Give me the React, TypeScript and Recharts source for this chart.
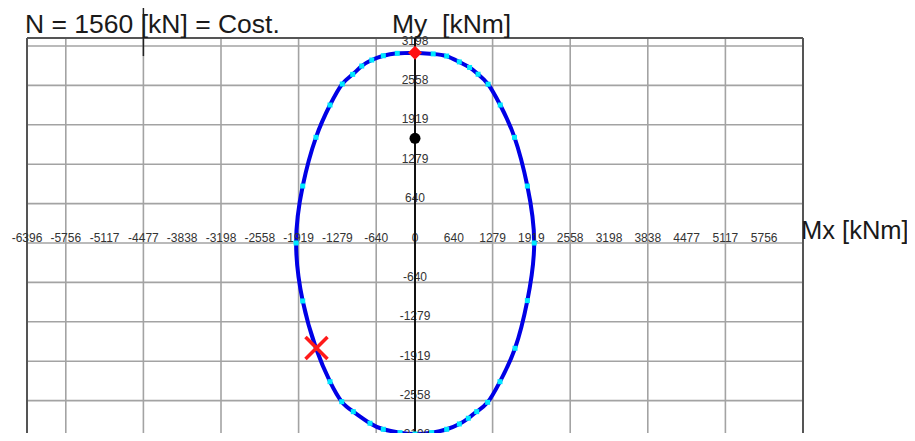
import React from "react";
import {
  ComposedChart,
  Scatter,
  Line,
  XAxis,
  YAxis,
  CartesianGrid,
  ReferenceLine,
} from "recharts";

// Interaction domain points (Mx, My), clockwise from the top
const ellipseMx = [0, 300, 522, 730, 900, 1040, 1205, 1405, 1640, 1852, 1965, 1852, 1649, 1401, 1198, 1017, 879, 731, 522, 275, 0, -247, -522, -742, -1017, -1208, -1401, -1632, -1851, -1960, -1851, -1632, -1401, -1199, -1027, -878, -713, -522, -292, 0];
const ellipseMy = [3090, 3070, 3035, 2940, 2850, 2740, 2578, 2240, 1715, 925, 0, -935, -1709, -2251, -2586, -2738, -2845, -2938, -3024, -3079, -3100, -3079, -3024, -2926, -2738, -2576, -2251, -1709, -941, 0, 925, 1716, 2240, 2581, 2738, 2873, 2970, 3040, 3079, 3090];

// Grid ticks
const xGridTicks = [-6396, -5756.4, -5116.8, -4477.2, -3837.6, -3198, -2558.4, -1918.8, -1279.2, -639.6, 0, 639.6, 1279.2, 1918.8, 2558.4, 3198, 3837.6, 4477.2, 5116.8, 5756.4, 6396];
const yGridTicks = [-3198, -2558.4, -1918.8, -1279.2, -639.6, 0, 639.6, 1279.2, 1918.8, 2558.4, 3198];

// Tick labels
const xLabelValues = [-6396, -5756.4, -5116.8, -4477.2, -3837.6, -3198, -2558.4, -1918.8, -1279.2, -639.6, 0, 639.6, 1279.2, 1918.8, 2558.4, 3198, 3837.6, 4477.2, 5116.8, 5756.4];
const xLabelTexts = ["-6396", "-5756", "-5117", "-4477", "-3838", "-3198", "-2558", "-1919", "-1279", "-640", "0", "640", "1279", "1919", "2558", "3198", "3838", "4477", "5117", "5756"];
const yLabelValues = [3198, 2558.4, 1918.8, 1279.2, 639.6, -639.6, -1279.2, -1918.8, -2558.4, -3198];
const yLabelTexts = ["3198", "2558", "1919", "1279", "640", "-640", "-1279", "-1919", "-2558", "-3198"];

// Special points
const topPoint = [{ x: 0, y: 3090 }];
const workPoint = [{ x: 0, y: 1700 }];
const crossPoint = [{ x: -1624, y: -1704 }];

const X_DOMAIN: [number, number] = [-6396, 6396];
const Y_DOMAIN: [number, number] = [-3328, 3328];

const ellipseData = ellipseMx.map((x, i) => ({ x, y: ellipseMy[i] }));
const xLabelData = xLabelValues.map((x, i) => ({ x, y: 0, label: xLabelTexts[i] }));
const yLabelData = yLabelValues.map((y, i) => ({ x: 0, y, label: yLabelTexts[i] }));
const axisLineData = [{ x: 0, y: Y_DOMAIN[0] }, { x: 0, y: Y_DOMAIN[1] }];

const FONT = "'Liberation Sans', Arial, sans-serif";

const LabelShape = (p: any) => (
  <text
    x={p.cx}
    y={p.cy - 1.5}
    textAnchor="middle"
    fontSize={12}
    fontFamily={FONT}
    fill="#333"
  >
    {p.payload.label}
  </text>
);

const NoShape = () => <g />;

const CyanDot = (p: any) => {
  if (p.cx == null || p.cy == null) return <g key={p.key} />;
  return (
    <rect
      key={p.key}
      x={p.cx - 2.5}
      y={p.cy - 2.5}
      width={5}
      height={5}
      fill="#00e8ff"
    />
  );
};

const RedDiamond = (p: any) => (
  <polygon
    points={`${p.cx},${p.cy - 7} ${p.cx + 7},${p.cy} ${p.cx},${p.cy + 7} ${p.cx - 7},${p.cy}`}
    fill="#ff1010"
  />
);

const BlackDot = (p: any) => <circle cx={p.cx} cy={p.cy} r={5.5} fill="#000" />;

const RedCross = (p: any) => (
  <g stroke="#ff1a1a" strokeWidth={3.5}>
    <line x1={p.cx - 11} y1={p.cy - 11} x2={p.cx + 11} y2={p.cy + 11} />
    <line x1={p.cx - 11} y1={p.cy + 11} x2={p.cx + 11} y2={p.cy - 11} />
  </g>
);

export default function App() {
  return (
    <div
      style={{
        position: "relative",
        width: 907,
        height: 433,
        overflow: "hidden",
        marginBottom: -8,
      }}
    >
      <ComposedChart
        width={907}
        height={450}
        margin={{ top: 30, right: 112, bottom: 10, left: 19 }}
      >
        <XAxis
          hide
          type="number"
          dataKey="x"
          domain={X_DOMAIN}
          ticks={xGridTicks}
        />
        <YAxis
          hide
          type="number"
          dataKey="y"
          domain={Y_DOMAIN}
          ticks={yGridTicks}
        />
        <CartesianGrid stroke="#a3a3a3" strokeWidth={1.6} />
        <ReferenceLine x={X_DOMAIN[0]} stroke="#555" strokeWidth={2} />
        <ReferenceLine x={X_DOMAIN[1]} stroke="#555" strokeWidth={2} />
        <ReferenceLine y={Y_DOMAIN[1]} stroke="#555" strokeWidth={2} />
        <ReferenceLine
          segment={[{ x: -4477.2, y: 3035 }, { x: -4477.2, y: 3950 }]}
          ifOverflow="visible"
          stroke="#222"
          strokeWidth={1.5}
        />
        <Scatter data={xLabelData} shape={LabelShape} isAnimationActive={false} />
        <Scatter data={yLabelData} shape={LabelShape} isAnimationActive={false} />
        <Scatter
          data={axisLineData}
          shape={NoShape}
          line={{ stroke: "#111", strokeWidth: 2 }}
          isAnimationActive={false}
        />
        <Line
          data={ellipseData}
          dataKey="y"
          type="natural"
          stroke="#0000e6"
          strokeWidth={4}
          dot={CyanDot}
          activeDot={false}
          isAnimationActive={false}
        />
        <Scatter data={workPoint} shape={BlackDot} isAnimationActive={false} />
        <Scatter data={topPoint} shape={RedDiamond} isAnimationActive={false} />
        <Scatter data={crossPoint} shape={RedCross} isAnimationActive={false} />
      </ComposedChart>
      <svg
        width={907}
        height={433}
        style={{ position: "absolute", left: 0, top: 0, pointerEvents: "none" }}
      >
        <text x={17} y={25} fontSize={26.5} fontFamily={FONT} fill="#1a1a1a">
          N = 1560 [kN] = Cost.
        </text>
        <text x={384} y={25} fontSize={26.5} fontFamily={FONT} fill="#1a1a1a" style={{ whiteSpace: "pre" }}>
          {"My  [kNm]"}
        </text>
        <text x={793} y={231} fontSize={25.5} fontFamily={FONT} fill="#1a1a1a">
          Mx [kNm]
        </text>
      </svg>
    </div>
  );
}
